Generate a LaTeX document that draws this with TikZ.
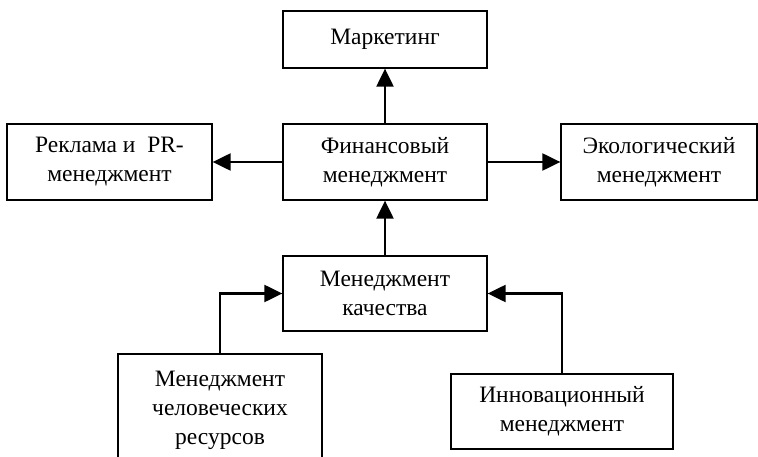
\documentclass[tikz,border=0pt]{standalone}
\usepackage{fontspec}
\setmainfont{Liberation Serif}
\usetikzlibrary{arrows.meta}

\begin{document}
\begin{tikzpicture}[x=1pt,y=-1pt,
  box/.style={draw,line width=1.3pt,align=center,inner sep=0pt,
    font=\fontsize{23.5}{29}\selectfont},
  link/.style={line width=2.2pt,-{Triangle[length=18pt,width=17pt]}}]
\useasboundingbox (0,0) rectangle (758,457);
\clip (0,0) rectangle (758,457);
\node[box,minimum width=204pt,minimum height=57pt](mark) at (385,39.5){Маркетинг};
\node[box,minimum width=204pt,minimum height=76pt](fin) at (385,162){Финансовый\\менеджмент};
\node[box,minimum width=205pt,minimum height=76pt](rek) at (109.5,162){Реклама и\ \ PR-\\менеджмент};
\node[box,minimum width=196pt,minimum height=76pt](eco) at (659,162){Экологический\\менеджмент};
\node[box,minimum width=204pt,minimum height=75pt](kach) at (385,293.5){Менеджмент\\качества};
\node[box,minimum width=204pt,minimum height=112pt](hr) at (220,410){Менеджмент\\человеческих\\ресурсов};
\node[box,minimum width=222pt,minimum height=75pt](inn) at (562,411.5){Инновационный\\менеджмент};
\draw[link](fin)--(mark);
\draw[link](fin)--(rek);
\draw[link](fin)--(eco);
\draw[link](kach)--(fin);
\draw[link](hr.north)|-(kach.west);
\draw[link](inn.north)|-(kach.east);
\end{tikzpicture}
\end{document}
